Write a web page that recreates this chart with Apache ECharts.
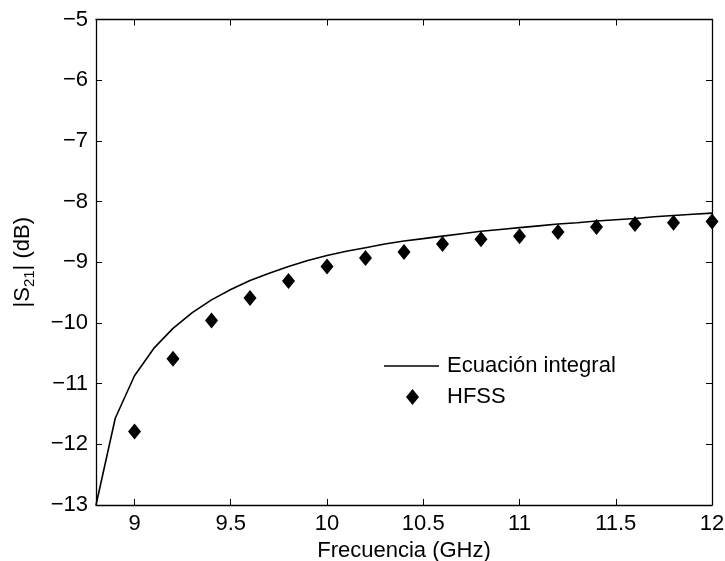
<!DOCTYPE html>
<html>
<head>
<meta charset="utf-8">
<script src="https://cdn.jsdelivr.net/npm/echarts@6/dist/echarts.min.js"></script>
<style>
  html, body { margin: 0; padding: 0; background: #fff; }
  #chart { width: 725px; height: 561px; }
</style>
</head>
<body>
<div id="chart"></div>
<script>
// Integral-equation solution, sampled every 0.1 GHz
const freqLine = [8.8, 8.9, 9.0, 9.1, 9.2, 9.3, 9.4, 9.5, 9.6, 9.7, 9.8, 9.9,
  10.0, 10.1, 10.2, 10.3, 10.4, 10.5, 10.6, 10.7, 10.8, 10.9,
  11.0, 11.1, 11.2, 11.3, 11.4, 11.5, 11.6, 11.7, 11.8, 11.9, 12.0];
const s21Line = [-13.0, -11.57, -10.87, -10.42, -10.09, -9.83, -9.62, -9.45, -9.30, -9.18, -9.07, -8.97,
  -8.89, -8.82, -8.76, -8.70, -8.65, -8.61, -8.57, -8.53, -8.49, -8.46,
  -8.43, -8.40, -8.37, -8.35, -8.32, -8.30, -8.28, -8.25, -8.23, -8.21, -8.19];

// HFSS simulation points
const freqHfss = [9.0, 9.2, 9.4, 9.6, 9.8, 10.0, 10.2, 10.4, 10.6, 10.8,
  11.0, 11.2, 11.4, 11.6, 11.8, 12.0];
const s21Hfss = [-11.79, -10.59, -9.96, -9.59, -9.31, -9.07, -8.93, -8.83, -8.70, -8.62,
  -8.57, -8.50, -8.42, -8.37, -8.35, -8.33];

// Axis ticks
const xTicks = [9, 9.5, 10, 10.5, 11, 11.5, 12];
const yTicks = [-13, -12, -11, -10, -9, -8, -7, -6, -5];

const seriesNames = ['Ecuación integral', 'HFSS'];
const xName = 'Frecuencia (GHz)';

const FONT = "'Liberation Sans', Arial, Helvetica, sans-serif";
const FS = 22;

const lineData = freqLine.map((f, i) => [f, s21Line[i]]);
const hfssData = freqHfss.map((f, i) => [f, s21Hfss[i]]);

const fmtNum = v => String(v).replace('-', '\u2212');

function xAxisDef(show, pos) {
  return {
    type: 'value', position: pos, min: 8.8, max: 12,
    axisLine: { show: true, onZero: false, lineStyle: { color: '#000', width: 1.3 } },
    axisTick: { show: true, inside: true, length: 6, customValues: xTicks, lineStyle: { color: '#000', width: 1 } },
    axisLabel: { show: show, customValues: xTicks, color: '#000', fontSize: FS, fontFamily: FONT, margin: 8, formatter: fmtNum },
    splitLine: { show: false }
  };
}
function yAxisDef(show, pos) {
  return {
    type: 'value', position: pos, min: -13, max: -5,
    axisLine: { show: true, onZero: false, lineStyle: { color: '#000', width: 1.3 } },
    axisTick: { show: true, inside: true, length: 6, customValues: yTicks, lineStyle: { color: '#000', width: 1 } },
    axisLabel: { show: show, customValues: yTicks, color: '#000', fontSize: FS, fontFamily: FONT, margin: 8, formatter: fmtNum },
    splitLine: { show: false }
  };
}

const xMain = Object.assign(xAxisDef(true, 'bottom'), {
  name: xName, nameLocation: 'middle', nameGap: 30,
  nameTextStyle: { color: '#000', fontSize: FS, fontFamily: FONT }
});
const yMain = Object.assign(yAxisDef(true, 'left'), {
  name: '{n|\u007CS}{s|21}{n|\u007C (dB)}', nameLocation: 'middle', nameGap: 60,
  nameTextStyle: {
    color: '#000', fontFamily: FONT,
    rich: {
      n: { fontSize: FS, fontFamily: FONT, color: '#000', lineHeight: 26, verticalAlign: 'middle' },
      s: { fontSize: 15, fontFamily: FONT, color: '#000', lineHeight: 15, padding: [14, 0, 0, 0], verticalAlign: 'middle' }
    }
  }
});

const chart = echarts.init(document.getElementById('chart'), null, { renderer: 'canvas' });
chart.setOption({
  animation: false,
  backgroundColor: '#fff',
  grid: { left: 96, right: 13, top: 19.5, bottom: 56, containLabel: false, outerBoundsMode: 'none' },
  xAxis: [xMain, xAxisDef(false, 'top')],
  yAxis: [yMain, yAxisDef(false, 'right')],
  legend: [
    {
      data: [{ name: seriesNames[0], icon: 'rect' }], orient: 'vertical', left: 384, top: 355, padding: 0,
      itemWidth: 55, itemHeight: 1.6, itemGap: 10,
      itemStyle: { color: '#000', borderWidth: 0 },
      textStyle: { color: '#000', fontSize: FS, fontFamily: FONT, padding: [0, 0, 0, 3] },
      selectedMode: false
    },
    {
      data: [{ name: seriesNames[1], icon: 'diamond' }], orient: 'vertical', left: 406, top: 386, padding: 0,
      itemWidth: 13, itemHeight: 16, itemGap: 10,
      itemStyle: { color: '#000', opacity: 1 },
      textStyle: { color: '#000', fontSize: FS, fontFamily: FONT, padding: [0, 0, 0, 23] },
      selectedMode: false
    }
  ],
  series: [
    {
      name: seriesNames[0], type: 'line', data: lineData,
      xAxisIndex: 0, yAxisIndex: 0,
      symbol: 'none', smooth: false,
      lineStyle: { color: '#000', width: 1.6 }, itemStyle: { color: '#000' }
    },
    {
      name: seriesNames[1], type: 'scatter', data: hfssData,
      xAxisIndex: 0, yAxisIndex: 0,
      symbol: 'diamond', symbolSize: [13, 16],
      itemStyle: { color: '#000', opacity: 1 }
    }
  ]
});
</script>
</body>
</html>
